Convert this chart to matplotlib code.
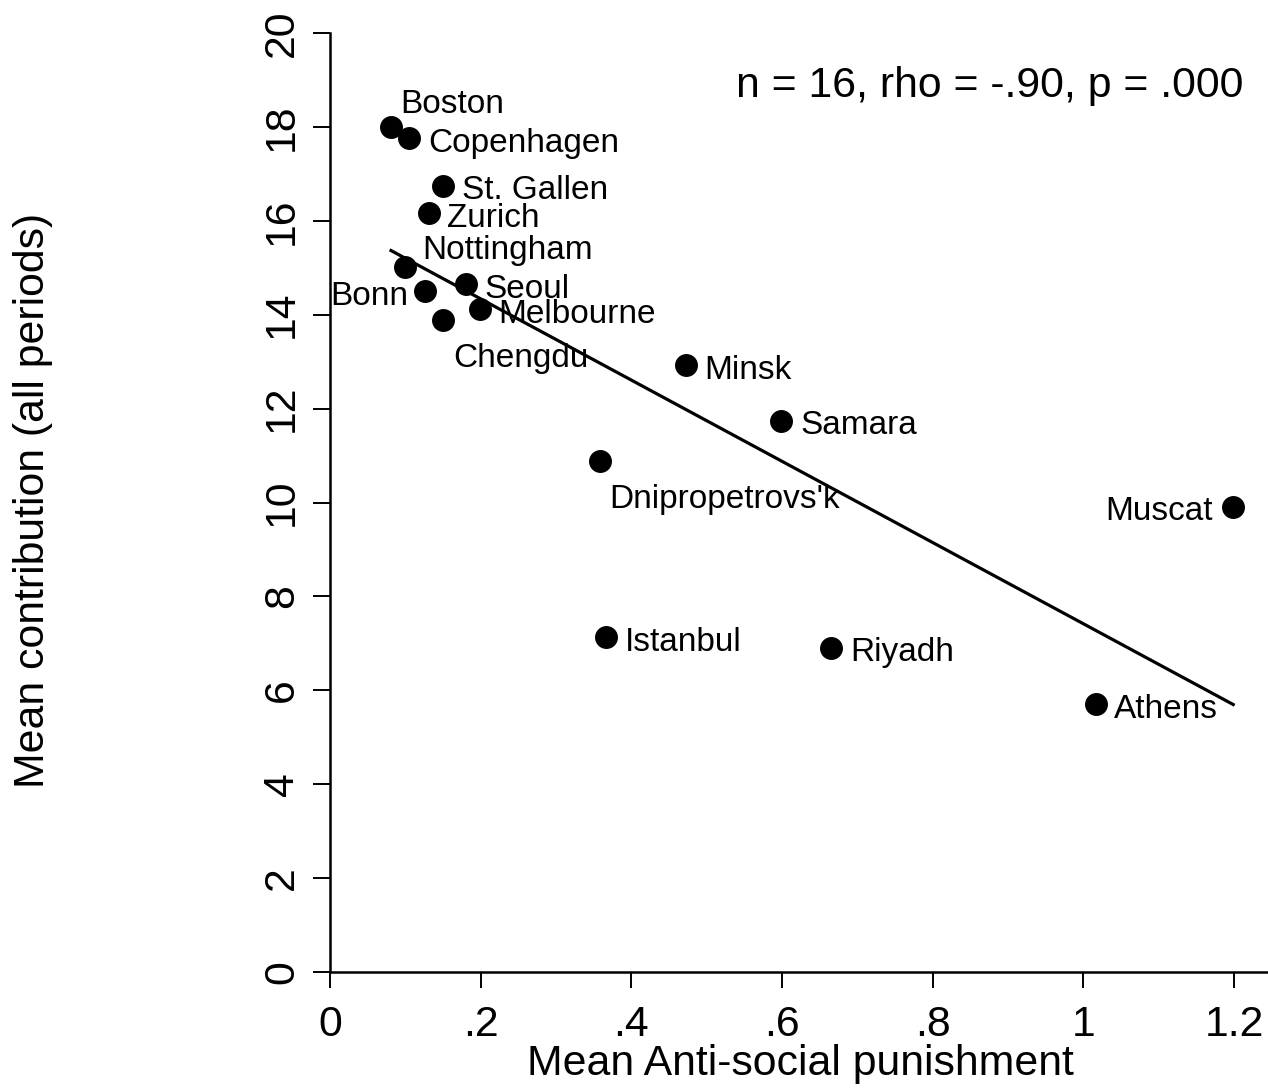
import numpy as np
import matplotlib
matplotlib.use("Agg")
import matplotlib.pyplot as plt

plt.rcParams['font.family'] = ['Liberation Sans', 'DejaVu Sans']

# Subject pools (cities) with mean anti-social punishment and mean contribution
cities = ["Boston", "Copenhagen", "St. Gallen", "Zurich", "Nottingham", "Bonn",
          "Seoul", "Melbourne", "Chengdu", "Minsk", "Samara", "Dnipropetrovs'k",
          "Muscat", "Istanbul", "Riyadh", "Athens"]
antisocial = [0.081, 0.105, 0.150, 0.131, 0.100, 0.126, 0.180, 0.199,
              0.150, 0.473, 0.599, 0.358, 1.199, 0.366, 0.665, 1.017]
contribution = [18.00, 17.76, 16.74, 16.17, 15.02, 14.50, 14.65, 14.12,
                13.89, 12.93, 11.74, 10.88, 9.90, 7.14, 6.90, 5.71]

x_ticks = [0, 0.2, 0.4, 0.6, 0.8, 1.0, 1.2]
x_tick_labels = ["0", ".2", ".4", ".6", ".8", "1", "1.2"]
y_ticks = [0, 2, 4, 6, 8, 10, 12, 14, 16, 18, 20]
y_tick_labels = [str(v) for v in y_ticks]

stats_text = "n = 16, rho = -.90, p = .000"

# Label placement for each city: offset (pixels) from the marker and alignment
label_place = {
    "Boston": (9, 14, "left"),
    "Copenhagen": (19, -14, "left"),
    "St. Gallen": (19, -13, "left"),
    "Zurich": (18, -14, "left"),
    "Nottingham": (17, 8, "left"),
    "Bonn": (-17, -14, "right"),
    "Seoul": (19, -14, "left"),
    "Melbourne": (18, -14, "left"),
    "Chengdu": (10, -47, "left"),
    "Minsk": (18, -14, "left"),
    "Samara": (19, -13, "left"),
    "Dnipropetrovs'k": (10, -47, "left"),
    "Muscat": (-20, -13, "right"),
    "Istanbul": (19, -14, "left"),
    "Riyadh": (19, -13, "left"),
    "Athens": (18, -14, "left"),
}

BIG = 30.8
SMALL = 24

W, H = 1268, 1088
fig = plt.figure(figsize=(W / 100, H / 100), dpi=100)
ax = fig.add_axes([330 / W, (H - 972) / H, (W - 330) / W, (972 - 33) / H])

x = np.array(antisocial)
y = np.array(contribution)

# Scatter of cities
ax.plot(x, y, linestyle="none", marker="o", markersize=15.5,
        color="black", zorder=3)

# Linear fit over the observed range
slope, intercept = np.polyfit(x, y, 1)
xf = np.array([x.min(), x.max()])
ax.plot(xf, intercept + slope * xf, color="black", linewidth=2.3, zorder=2)

for name, xi, yi in zip(cities, antisocial, contribution):
    dx, dy, ha = label_place[name]
    ax.annotate(name, (xi, yi), xytext=(dx, dy), textcoords="offset pixels",
                ha=ha, va="baseline", fontsize=SMALL, color="black", zorder=4)

ax.set_xlim(0, (W - 330) / 753.3)
ax.set_ylim(0, 20)

ax.set_xticks(x_ticks, x_tick_labels, fontsize=BIG)
ax.set_yticks(y_ticks, y_tick_labels, fontsize=BIG, rotation=90, va="center")

for side in ("top", "right"):
    ax.spines[side].set_visible(False)
for side in ("left", "bottom"):
    ax.spines[side].set_linewidth(1.8)

ax.tick_params(axis="x", direction="out", length=11.5, width=1.4, pad=12)
ax.tick_params(axis="y", direction="out", length=12, width=1.4, pad=8)

ax.text(1243 / W, (H - 97) / H, stats_text, transform=fig.transFigure,
        ha="right", va="baseline", fontsize=BIG)

fig.text(800 / W, 13 / H, "Mean Anti-social punishment",
         ha="center", va="baseline", fontsize=BIG)
fig.text(33 / W, (H - 500) / H, "Mean contribution (all periods)",
         ha="center", va="center", rotation=90, fontsize=BIG)

fig.savefig("out.png", dpi=100)
